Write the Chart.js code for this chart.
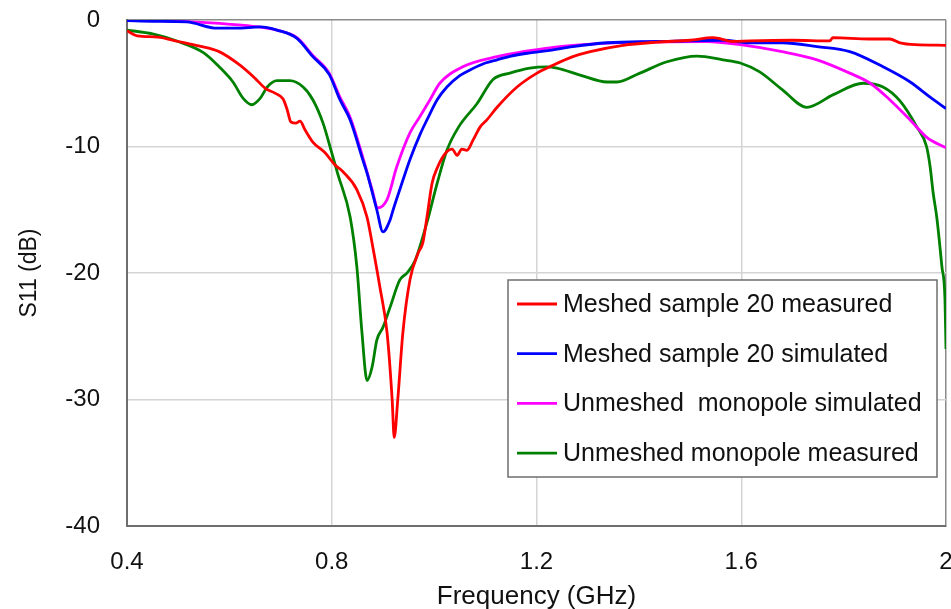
<!DOCTYPE html>
<html>
<head>
<meta charset="utf-8">
<script src="https://cdn.jsdelivr.net/npm/chart.js@4/dist/chart.umd.min.js"></script>
<style>
  html, body { margin: 0; padding: 0; background: #fff; overflow: hidden; }
  #wrap { width: 953px; height: 609px; }
</style>
</head>
<body>
<div id="wrap"><canvas id="grafico"></canvas></div>
<script>
// Meshed sample 20 measured
const redFreq = [0.40,0.42,0.46,0.50,0.54,0.58,0.62,0.65,0.67,0.69,0.705,0.713,0.72,0.73,0.738,0.748,0.763,0.787,0.806,0.822,0.849,0.869,0.88,0.894,0.908,0.918,0.922,0.929,0.939,0.953,0.969,0.978,0.986,0.996,1.006,1.025,1.035,1.045,1.054,1.064,1.076,1.09,1.103,1.123,1.162,1.201,1.226,1.271,1.305,1.369,1.435,1.50,1.545,1.584,1.617,1.70,1.773,1.779,1.85,1.89,1.91,1.94,2.0];
const redDb = [-0.85,-1.25,-1.35,-1.7,-2.05,-2.5,-3.55,-4.6,-5.4,-5.8,-6.25,-7.1,-8.05,-8.15,-8.0,-8.7,-9.65,-10.5,-11.45,-12.0,-13.4,-15.6,-17.9,-21.1,-24.7,-30.0,-33.0,-30.0,-24.7,-20.5,-18.4,-17.6,-15.6,-12.9,-11.7,-10.4,-10.2,-10.7,-10.2,-10.3,-9.5,-8.45,-7.9,-6.9,-5.3,-4.2,-3.7,-2.9,-2.5,-2.0,-1.75,-1.6,-1.4,-1.7,-1.65,-1.6,-1.65,-1.4,-1.5,-1.5,-1.8,-1.95,-2.0];

// Meshed sample 20 simulated
const blueFreq = [0.40,0.45,0.517,0.576,0.615,0.66,0.693,0.732,0.763,0.795,0.816,0.836,0.861,0.869,0.888,0.90,0.914,0.92,0.933,0.953,0.973,0.986,1.006,1.025,1.05,1.07,1.10,1.123,1.15,1.187,1.226,1.271,1.338,1.435,1.564,1.617,1.68,1.748,1.812,1.877,1.93,1.969,2.0];
const blueDb = [-0.05,-0.1,-0.15,-0.65,-0.65,-0.55,-0.8,-1.45,-2.9,-4.3,-6.3,-7.9,-11.1,-12.1,-15.0,-16.75,-15.8,-15.0,-13.4,-11.0,-9.0,-7.9,-6.3,-5.3,-4.4,-3.95,-3.4,-3.15,-2.85,-2.6,-2.4,-2.1,-1.8,-1.7,-1.6,-1.8,-1.8,-2.1,-2.5,-3.7,-4.9,-6.1,-7.0];

// Unmeshed monopole simulated
const magentaFreq = [0.40,0.42,0.517,0.646,0.693,0.732,0.763,0.795,0.816,0.836,0.861,0.878,0.89,0.908,0.927,0.953,0.972,0.992,1.011,1.056,1.123,1.226,1.271,1.40,1.533,1.598,1.68,1.748,1.812,1.852,1.89,1.93,1.963,2.0];
const magentaDb = [-0.05,0,-0.13,-0.5,-0.8,-1.4,-2.8,-4.2,-6.1,-7.7,-10.9,-13.3,-14.85,-14.2,-11.6,-8.9,-7.65,-6.3,-5.0,-3.7,-2.9,-2.2,-2.0,-1.75,-1.7,-1.95,-2.5,-3.15,-4.2,-5.0,-6.3,-7.9,-9.3,-10.1];

// Unmeshed monopole measured
const greenFreq = [0.40,0.45,0.50,0.55,0.58,0.607,0.627,0.644,0.66,0.674,0.693,0.718,0.744,0.763,0.783,0.80,0.812,0.836,0.849,0.859,0.869,0.879,0.888,0.90,0.914,0.933,0.947,0.963,0.986,1.006,1.025,1.048,1.084,1.115,1.148,1.187,1.22,1.24,1.285,1.338,1.357,1.402,1.455,1.514,1.564,1.598,1.636,1.68,1.728,1.78,1.838,1.877,1.91,1.943,1.962,1.969,1.975,1.982,1.992,1.998,2.0];
const greenDb = [-0.8,-1.1,-1.7,-2.6,-3.7,-4.9,-6.2,-6.7,-6.2,-5.3,-4.8,-4.8,-5.3,-6.3,-8.15,-10.5,-12.2,-15.6,-19.5,-24.7,-28.5,-27.4,-25.3,-24.3,-22.7,-20.55,-20.0,-19.0,-16.0,-12.9,-10.3,-8.45,-6.6,-4.7,-4.2,-3.8,-3.7,-3.8,-4.35,-4.9,-4.9,-4.2,-3.3,-2.85,-3.15,-3.4,-4.1,-5.5,-6.9,-5.9,-5.0,-5.3,-6.4,-8.45,-10.0,-11.6,-13.7,-15.6,-19.5,-22.1,-26.0];

const seriesLabels = ["Meshed sample 20 measured", "Meshed sample 20 simulated", "Unmeshed  monopole simulated", "Unmeshed monopole measured"];
const xTicks = [0.4, 0.8, 1.2, 1.6, 2.0];
const yTicks = [0, -10, -20, -30, -40];

const fonte = '"Liberation Sans", Arial, sans-serif';

function pontos(xs, ys) {
    return xs.map((x, i) => ({ x: x, y: ys[i] }));
}

function serie(label, xs, ys, cor) {
    return {
        label: label,
        data: pontos(xs, ys),
        borderColor: cor,
        backgroundColor: cor,
        borderWidth: 2.8,
        pointRadius: 0,
        fill: false,
        cubicInterpolationMode: 'monotone'
    };
}

// legenda desenhada dentro da área do gráfico
const legendaCaixa = {
    id: 'legendaCaixa',
    afterDatasetsDraw(chart) {
        const ctx = chart.ctx;
        const x0 = 508, y0 = 280, w = 429, h = 197;
        ctx.save();
        ctx.fillStyle = '#ffffff';
        ctx.fillRect(x0, y0, w, h);
        ctx.strokeStyle = '#6e6e6e';
        ctx.lineWidth = 1.5;
        ctx.strokeRect(x0, y0, w, h);
        ctx.font = '25px ' + fonte;
        ctx.textBaseline = 'middle';
        chart.data.datasets.forEach((ds, i) => {
            const y = 304 + i * 49.7;
            ctx.strokeStyle = ds.borderColor;
            ctx.lineWidth = 2.8;
            ctx.beginPath();
            ctx.moveTo(517, y);
            ctx.lineTo(557, y);
            ctx.stroke();
            ctx.fillStyle = '#111111';
            ctx.fillText(ds.label, 563, y + 1);
        });
        ctx.restore();
    }
};

const ctx = document.getElementById("grafico").getContext("2d");

new Chart(ctx, {
    type: 'line',
    data: {
        datasets: [
            serie(seriesLabels[0], redFreq, redDb, '#ff0000'),
            serie(seriesLabels[1], blueFreq, blueDb, '#0000ff'),
            serie(seriesLabels[2], magentaFreq, magentaDb, '#ff00ff'),
            serie(seriesLabels[3], greenFreq, greenDb, '#008000')
        ]
    },
    options: {
        responsive: true,
        maintainAspectRatio: false,
        animation: false,
        layout: { padding: { top: 20, left: 0, right: 7, bottom: 0 } },
        plugins: {
            legend: { display: false },
            tooltip: { enabled: false }
        },
        scales: {
            x: {
                type: 'linear',
                min: xTicks[0],
                max: xTicks[xTicks.length - 1],
                afterBuildTicks: function(scale) {
                    scale.ticks = xTicks.map(v => ({ value: v }));
                },
                afterFit: function(scale) {
                    scale.height = 83;
                    scale.paddingLeft = 0;
                    scale.paddingRight = 0;
                },
                ticks: {
                    padding: 22,
                    color: '#111111',
                    font: { family: fonte, size: 24 },
                    maxRotation: 0,
                    callback: v => Number(v.toFixed(1)).toString()
                },
                grid: {
                    drawTicks: false,
                    lineWidth: 1.5,
                    color: c => (c.tick && c.tick.value === 2) ? '#8a8a8a' : '#d4d4d4'
                },
                border: { color: '#6e6e6e', width: 2 },
                title: {
                    display: true,
                    text: 'Frequency (GHz)',
                    color: '#111111',
                    font: { family: fonte, size: 26, lineHeight: 1 },
                    padding: { top: 0, bottom: -1 }
                }
            },
            y: {
                type: 'linear',
                min: -40,
                max: 0,
                afterBuildTicks: function(scale) {
                    scale.ticks = yTicks.map(v => ({ value: v }));
                },
                afterFit: function(scale) {
                    scale.width = 127;
                    scale.paddingTop = 0;
                    scale.paddingBottom = 0;
                },
                ticks: {
                    padding: 27,
                    color: '#111111',
                    font: { family: fonte, size: 24 }
                },
                grid: {
                    drawTicks: false,
                    lineWidth: 1.5,
                    color: c => (c.tick && c.tick.value === 0) ? '#8a8a8a' : '#d4d4d4'
                },
                border: { color: '#6e6e6e', width: 2 },
                title: {
                    display: true,
                    text: 'S11 (dB)',
                    color: '#111111',
                    font: { family: fonte, size: 23, lineHeight: 1.2 },
                    padding: { top: 16, bottom: 0 }
                }
            }
        }
    },
    plugins: [legendaCaixa]
});
</script>
</body>
</html>
